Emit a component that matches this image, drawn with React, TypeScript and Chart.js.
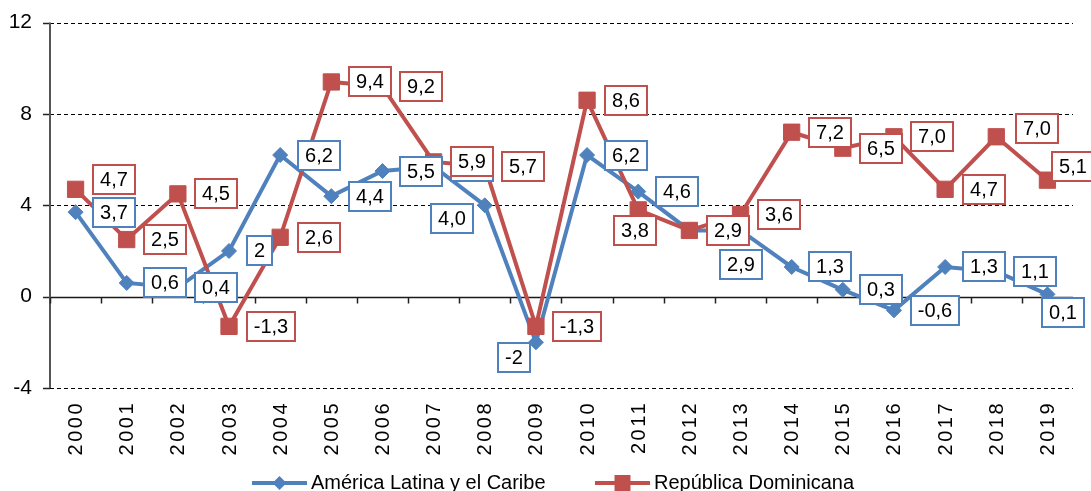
import React, { useEffect, useRef } from 'react';
import { Chart, registerables } from 'chart.js';

Chart.register(...registerables);

// ---- data ----
const years = ['2000', '2001', '2002', '2003', '2004', '2005', '2006', '2007', '2008', '2009',
  '2010', '2011', '2012', '2013', '2014', '2015', '2016', '2017', '2018', '2019'];
const latamValues = [3.7, 0.6, 0.4, 2, 6.2, 4.4, 5.5, 5.7, 4.0, -2, 6.2, 4.6, 2.9, 2.9, 1.3, 0.3, -0.6, 1.3, 1.1, 0.1];
const domValues = [4.7, 2.5, 4.5, -1.3, 2.6, 9.4, 9.2, 5.9, 5.7, -1.3, 8.6, 3.8, 2.9, 3.6, 7.2, 6.5, 7.0, 4.7, 7.0, 5.1];
const yTicks = [-4, 0, 4, 8, 12];
const seriesNames = ['América Latina y el Caribe', 'República Dominicana'];
// indices whose label is printed without a decimal
const latamWholeLabels = [3, 9];

// ---- label placement (box centre offset from point, null = to the right) ----
type Off = [number, number] | null;
const latamLabelOffsets: Off[] = [null, null, null, null, null, null, null, null, [-33, 13], [-21.5, 15],
  null, null, null, [0, 34], null, null, null, null, null, [15.5, 18]];
const domLabelOffsets: Off[] = [[38, -10], null, null, null, null, null, null, null, null, null,
  null, [-3, 21], null, null, null, null, null, null, [41, -8], [26, -14]];

const BLUE = '#4F81BD';
const RED = '#C0504D';
const FONT = '"Liberation Sans", Arial, sans-serif';

function fmt(v: number, i: number, whole: number[]) {
  if (whole.includes(i)) return String(v);
  return v.toFixed(1).replace('.', ',');
}

const excelPlugin = {
  id: 'excelLook',
  beforeDatasetsDraw(chart: any) {
    const { ctx, chartArea: a, scales } = chart;
    const y = scales.y;
    const x = scales.x;
    ctx.save();
    ctx.lineWidth = 1;
    yTicks.forEach((t) => {
      const py = Math.round(y.getPixelForValue(t)) + 0.5;
      ctx.setLineDash(t === 0 ? [] : [4, 3]);
      ctx.strokeStyle = t === 0 ? '#1a1a1a' : '#000';
      ctx.lineWidth = t === 0 ? 1.5 : 1;
      ctx.beginPath();
      ctx.moveTo(a.left, py);
      ctx.lineTo(a.right, py);
      ctx.stroke();
      ctx.setLineDash([]);
      ctx.lineWidth = 1.5;
      ctx.strokeStyle = '#222';
      ctx.beginPath();
      ctx.moveTo(a.left - 7, py);
      ctx.lineTo(a.left, py);
      ctx.stroke();
    });
    ctx.strokeStyle = '#555';
    ctx.lineWidth = 2;
    ctx.beginPath();
    ctx.moveTo(a.left, a.top);
    ctx.lineTo(a.left, a.bottom);
    ctx.stroke();
    const zy = Math.round(y.getPixelForValue(0)) + 0.5;
    const step = x.getPixelForValue(1) - x.getPixelForValue(0);
    ctx.strokeStyle = '#222';
    ctx.lineWidth = 1.5;
    for (let i = 0; i <= years.length; i++) {
      const px = Math.round(x.getPixelForValue(0) - step / 2 + i * step) + 0.5;
      ctx.beginPath();
      ctx.moveTo(px, zy);
      ctx.lineTo(px, zy + 6);
      ctx.stroke();
    }
    ctx.restore();
  },
  afterDatasetsDraw(chart: any) {
    const { ctx } = chart;
    ctx.save();
    ctx.font = `20px ${FONT}`;
    ctx.textAlign = 'center';
    ctx.textBaseline = 'middle';
    const sets = [
      { idx: 0, color: BLUE, offs: latamLabelOffsets, whole: latamWholeLabels },
      { idx: 1, color: RED, offs: domLabelOffsets, whole: [] as number[] },
    ];
    sets.forEach(({ idx, color, offs, whole }) => {
      const meta = chart.getDatasetMeta(idx);
      const data = chart.data.datasets[idx].data as number[];
      meta.data.forEach((pt: any, i: number) => {
        const text = fmt(data[i], i, whole);
        const tw = ctx.measureText(text).width;
        const bw = Math.round(tw + 16);
        const bh = 31;
        const off = offs[i];
        const cx = off ? pt.x + off[0] : pt.x + 16.5 + bw / 2;
        const cy = off ? pt.y + off[1] : pt.y;
        const left = Math.round(cx - bw / 2);
        const top = Math.round(cy - bh / 2);
        ctx.fillStyle = '#fff';
        ctx.fillRect(left, top, bw, bh);
        ctx.strokeStyle = color;
        ctx.lineWidth = 2;
        ctx.strokeRect(left + 1, top + 1, bw - 2, bh - 2);
        ctx.fillStyle = '#000';
        ctx.fillText(text, left + bw / 2, top + bh / 2 + 1);
      });
    });
    ctx.restore();
  },
  afterDraw(chart: any) {
    const { ctx, scales } = chart;
    const x = scales.x;
    ctx.save();
    // category labels, rotated
    ctx.font = `20px ${FONT}`;
    ctx.fillStyle = '#000';
    (ctx as any).letterSpacing = '2.5px';
    ctx.textAlign = 'right';
    ctx.textBaseline = 'middle';
    years.forEach((yr, i) => {
      const px = x.getPixelForValue(i);
      ctx.save();
      ctx.translate(px + 1, 401);
      ctx.rotate(-Math.PI / 2);
      ctx.fillText(yr, 0, 0);
      ctx.restore();
    });
    (ctx as any).letterSpacing = '0px';
    // legend
    const ly = 483;
    ctx.font = `20px ${FONT}`;
    ctx.textAlign = 'left';
    ctx.textBaseline = 'alphabetic';
    const items = [
      { name: seriesNames[0], color: BLUE, x0: 252, shape: 'diamond' },
      { name: seriesNames[1], color: RED, x0: 595, shape: 'square' },
    ];
    items.forEach((it) => {
      ctx.strokeStyle = it.color;
      ctx.fillStyle = it.color;
      ctx.lineWidth = 4;
      ctx.beginPath();
      ctx.moveTo(it.x0, ly);
      ctx.lineTo(it.x0 + 55, ly);
      ctx.stroke();
      const mx = it.x0 + 27.5;
      ctx.beginPath();
      if (it.shape === 'diamond') {
        ctx.moveTo(mx - 7, ly);
        ctx.lineTo(mx, ly - 7);
        ctx.lineTo(mx + 7, ly);
        ctx.lineTo(mx, ly + 7);
        ctx.closePath();
      } else {
        ctx.rect(mx - 8, ly - 8, 16, 16);
      }
      ctx.fill();
      ctx.fillStyle = '#000';
      ctx.fillText(it.name, it.x0 + 59, 489);
    });
    ctx.restore();
  },
};

export default function App() {
  const ref = useRef<HTMLCanvasElement | null>(null);

  useEffect(() => {
    document.body.style.margin = '0';
    if (!ref.current) return;
    const chart = new Chart(ref.current, {
      type: 'line',
      data: {
        labels: years,
        datasets: [
          {
            label: seriesNames[0],
            data: latamValues,
            borderColor: BLUE,
            backgroundColor: BLUE,
            borderWidth: 4,
            pointStyle: 'rectRot',
            pointRadius: 7.5,
            pointBorderWidth: 1,
            pointBorderColor: BLUE,
            pointBackgroundColor: BLUE,
            tension: 0,
            order: 1,
          },
          {
            label: seriesNames[1],
            data: domValues,
            borderColor: RED,
            backgroundColor: RED,
            borderWidth: 4,
            pointStyle: 'rect',
            pointRadius: 11.5,
            pointBorderWidth: 1,
            pointBorderColor: RED,
            pointBackgroundColor: RED,
            tension: 0,
            order: 0,
          },
        ],
      },
      options: {
        animation: false,
        responsive: true,
        maintainAspectRatio: false,
        layout: { padding: { top: 16, right: 18, left: 0, bottom: 0 } },
        plugins: {
          legend: { display: false },
          tooltip: { enabled: false },
        },
        scales: {
          x: {
            type: 'category',
            offset: true,
            grid: { display: false },
            border: { display: false },
            ticks: { display: false },
            afterFit: (s: any) => { s.height = 103; },
          },
          y: {
            min: -4,
            max: 12,
            afterBuildTicks: (s: any) => { s.ticks = yTicks.map((v) => ({ value: v })); },
            ticks: { font: { size: 21, family: FONT }, color: '#000', padding: 10 },
            grid: { display: false },
            border: { display: false },
            afterFit: (s: any) => { s.width = 50; },
          },
        },
      },
      plugins: [excelPlugin],
    });
    return () => chart.destroy();
  }, []);

  return (
    <div style={{ position: 'absolute', left: 0, top: 0, width: 1091, height: 491 }}>
      <canvas ref={ref} />
    </div>
  );
}
